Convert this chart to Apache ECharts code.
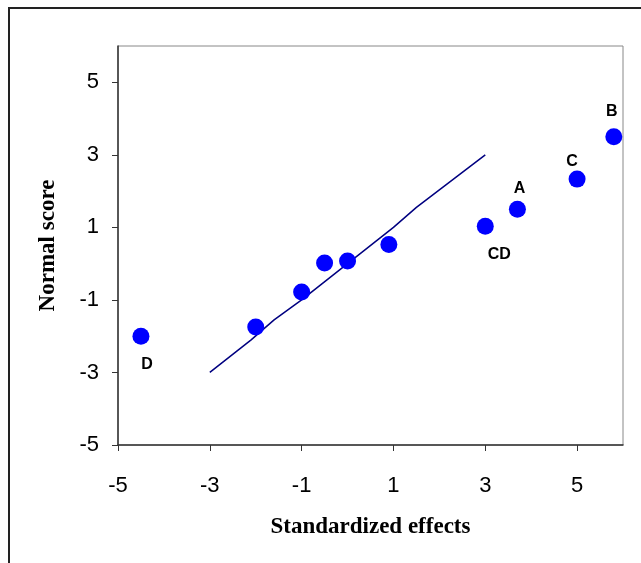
<!DOCTYPE html>
<html>
<head>
<meta charset="utf-8">
<script src="https://cdn.jsdelivr.net/npm/echarts@6/dist/echarts.min.js"></script>
<style>
html,body{margin:0;padding:0;background:#fff;}
#chart{width:641px;height:563px;}
</style>
</head>
<body>
<div id="chart"></div>
<script>
// Data
const effectX = [-4.5, -2.0, -1.0, -0.5, 0.0, 0.9, 3.0, 3.7, 5.0, 5.8];
const normalY = [-2.0, -1.75, -0.78, 0.02, 0.07, 0.53, 1.03, 1.5, 2.33, 3.5];
const pointNames = ['D', '', '', '', '', '', 'CD', 'A', 'C', 'B'];
const refLineX = [-3, -2.1, -1.6, -1, 0, 1, 1.5, 3];
const refLineY = [-3, -2.1, -1.55, -1, 0, 1, 1.55, 3];
const tickValues = [-5, -3, -1, 1, 3, 5];
const xTitle = 'Standardized effects';
const yTitle = 'Normal score';

// label placement styles (kept separate from data)
const labelOffsets = { D: [6, 28], CD: [14, 28], A: [2, -21], C: [-5, -18], B: [-2, -25] };

const chart = echarts.init(document.getElementById('chart'), null, { renderer: 'canvas' });

const scatterData = effectX.map((x, i) => {
  const name = pointNames[i];
  return {
    value: [x, normalY[i]],
    label: name ? {
      show: true,
      formatter: name,
      position: 'inside',
      offset: labelOffsets[name],
      color: '#000',
      opacity: 1,
      fontFamily: 'Liberation Sans, Arial, sans-serif',
      fontWeight: 'bold',
      fontSize: 16
    } : { show: false }
  };
});

const lineData = refLineX.map((x, i) => [x, refLineY[i]]);

const axisCommon = {
  type: 'value',
  min: -5,
  max: 6,
  splitLine: { show: false },
  axisLine: { show: true, onZero: false, lineStyle: { color: '#333', width: 1.5 } },
  axisTick: { show: true, customValues: tickValues, length: 6, inside: false, lineStyle: { color: '#333', width: 1 } },
  axisLabel: {
    customValues: tickValues,
    color: '#000',
    fontFamily: 'Liberation Sans, Arial, sans-serif',
    fontSize: 22
  },
  nameLocation: 'middle',
  nameTextStyle: {
    color: '#000',
    fontFamily: 'Liberation Serif, Times New Roman, serif',
    fontWeight: 'bold',
    fontSize: 23
  }
};

const option = {
  backgroundColor: '#fff',
  animation: false,
  graphic: [{
    type: 'rect',
    shape: { x: 9, y: 8, width: 700, height: 700 },
    style: { fill: 'none', stroke: '#222', lineWidth: 2 },
    silent: true,
    z: 100
  }],
  grid: {
    left: 118, top: 46, right: 18, bottom: 118,
    show: true, borderColor: '#888', borderWidth: 1, backgroundColor: 'transparent'
  },
  xAxis: Object.assign({}, axisCommon, {
    name: xTitle,
    nameGap: 71,
    axisLabel: Object.assign({}, axisCommon.axisLabel, { margin: 30 })
  }),
  yAxis: Object.assign({}, axisCommon, {
    name: yTitle,
    nameGap: 58,
    axisLabel: Object.assign({}, axisCommon.axisLabel, { margin: 19, padding: [6, 0, 0, 0] })
  }),
  series: [
    {
      type: 'line',
      data: lineData,
      showSymbol: false,
      symbol: 'none',
      lineStyle: { color: '#000080', width: 1.5 },
      z: 2
    },
    {
      type: 'scatter',
      data: scatterData,
      symbol: 'circle',
      symbolSize: 17,
      itemStyle: { color: '#0000FF', opacity: 1 },
      z: 3
    }
  ]
};

chart.setOption(option);
</script>
</body>
</html>
